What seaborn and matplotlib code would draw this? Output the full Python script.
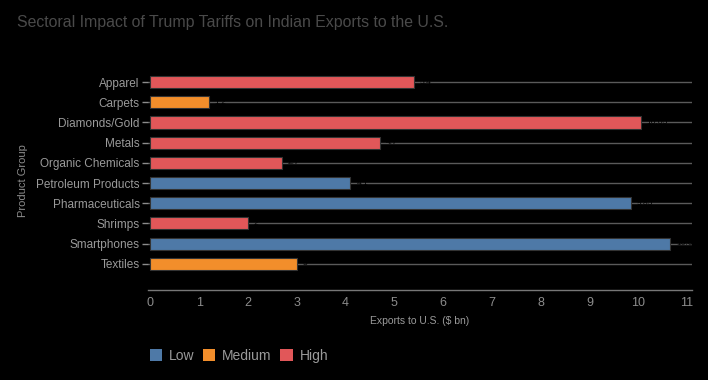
import matplotlib.pyplot as plt
import numpy as np
import pandas as pd
import seaborn as sns

# data
products = ["Apparel", "Carpets", "Diamonds/Gold", "Metals", "Organic Chemicals",
            "Petroleum Products", "Pharmaceuticals", "Shrimps", "Smartphones", "Textiles"]
exports = [5.4, 1.2, 10.05, 4.7, 2.7, 4.1, 9.85, 2.0, 10.65, 3.0]
impact = ["High", "Medium", "High", "High", "High", "Low", "Low", "High", "Low", "Medium"]
impact_order = ["Low", "Medium", "High"]
palette = {"Low": "#4e79a7", "Medium": "#f28e2b", "High": "#e15759"}

df = pd.DataFrame({"product": products, "exports": exports, "impact": impact})

sns.set_theme(style="dark")
plt.rcParams['font.family'] = ['Liberation Sans', 'DejaVu Sans']

fig = plt.figure(figsize=(7.08, 3.8), dpi=100, facecolor="black")
ax = fig.add_axes([148/708, (380-290)/380, (692-148)/708, (290-72)/380])
ax.set_facecolor("black")

# horizontal gridlines at each category
for i in range(len(products)):
    ax.axhline(i, color="#5a5a5a", lw=1, zorder=0)

sns.barplot(data=df, x="exports", y="product", hue="impact", hue_order=impact_order,
            order=products, palette=palette, dodge=False, width=0.6, saturation=1,
            edgecolor="#333333", linewidth=0.8, ax=ax, zorder=2)

# black value labels (they only show as gaps in the grid lines)
for i, v in enumerate(exports):
    ax.text(v + 0.12, i, f"{v:g}", color="black", fontsize=6, va="center", ha="left", zorder=3)

ax.set_xlim(-0.05, 11.1)
ax.set_ylim(10.3, -0.5)
ax.set_xticks(range(0, 12))

for s in ["top", "right", "left"]:
    ax.spines[s].set_visible(False)
ax.spines["bottom"].set_color("#777777")
ax.spines["bottom"].set_linewidth(1)

ax.tick_params(axis="x", length=0, pad=5, labelsize=9, labelcolor="#8c8c8c")
ax.tick_params(axis="y", length=4, width=1, color="#8c8c8c", pad=2, labelsize=8.5, labelcolor="#9a9a9a", left=True)

ax.set_xlabel("Exports to U.S. ($ bn)", color="#9a9a9a", fontsize=7.5, labelpad=5)
ax.set_ylabel("Product Group", color="#8c8c8c", fontsize=8, labelpad=6)

fig.text(17/708, 1 - 22/380, "Sectoral Impact of Trump Tariffs on Indian Exports to the U.S.",
         color="#4a4a4a", fontsize=11.4, va="center", ha="left")

leg = ax.legend(loc="center left", bbox_to_anchor=(137/708, 1 - 356/380), bbox_transform=fig.transFigure,
                ncol=3, frameon=False, fontsize=10, handlelength=0.9, handleheight=0.9,
                handletextpad=0.5, columnspacing=0.6, labelcolor="#9a9a9a")
for h in leg.legend_handles:
    h.set_edgecolor("none")

fig.savefig("out.png", dpi=100, facecolor="black")
